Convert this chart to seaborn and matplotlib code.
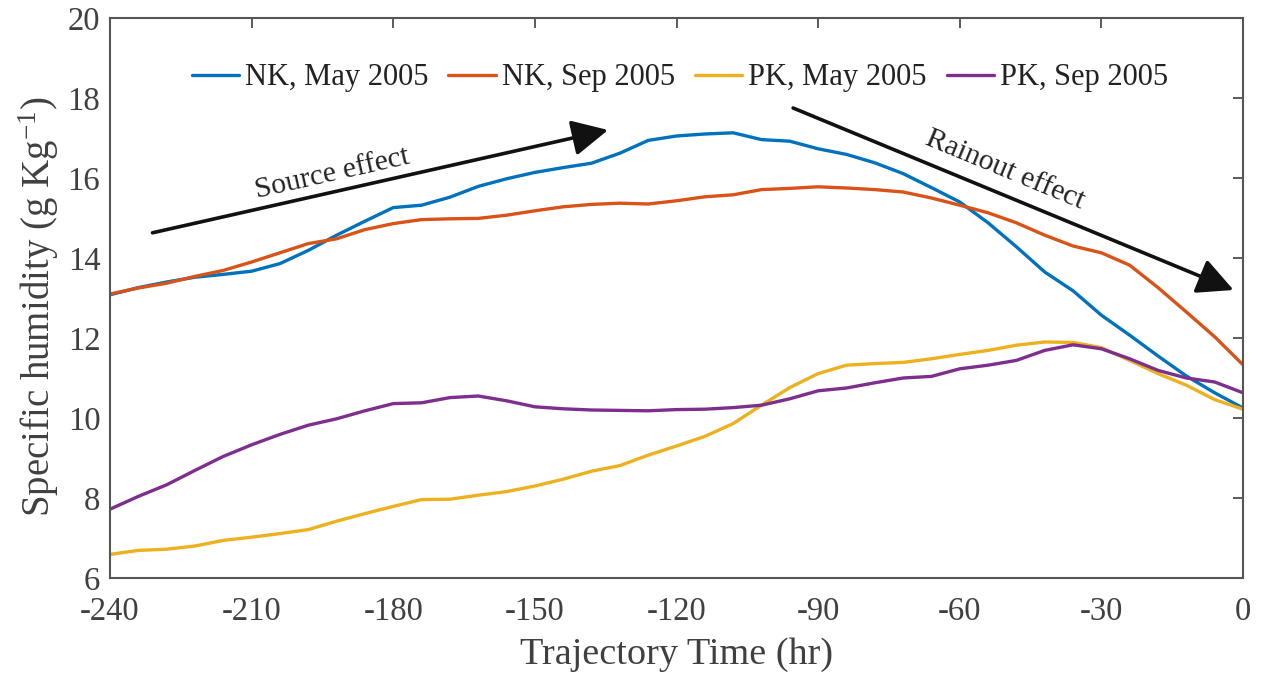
import numpy as np
import pandas as pd
import matplotlib
matplotlib.use("Agg")
import matplotlib.pyplot as plt
import seaborn as sns

# ---- data ----
hours = list(range(-240, 1, 6))
nk_may = [13.08, 13.26, 13.40, 13.52, 13.59, 13.67, 13.86, 14.19, 14.57, 14.92,
          15.26, 15.32, 15.52, 15.79, 15.98, 16.14, 16.26, 16.37, 16.62, 16.94,
          17.05, 17.10, 17.13, 16.96, 16.92, 16.73, 16.59, 16.38, 16.11, 15.76,
          15.40, 14.88, 14.28, 13.65, 13.18, 12.57, 12.07, 11.55, 11.05, 10.63, 10.25]
nk_sep = [13.10, 13.25, 13.37, 13.54, 13.69, 13.90, 14.13, 14.36, 14.48, 14.71,
          14.86, 14.96, 14.98, 14.99, 15.07, 15.18, 15.28, 15.34, 15.37, 15.35,
          15.43, 15.53, 15.58, 15.71, 15.74, 15.78, 15.75, 15.71, 15.65, 15.50,
          15.32, 15.13, 14.88, 14.57, 14.30, 14.13, 13.82, 13.26, 12.65, 12.03, 11.33]
pk_may = [6.59, 6.69, 6.72, 6.80, 6.94, 7.02, 7.11, 7.21, 7.42, 7.61,
          7.79, 7.96, 7.97, 8.07, 8.16, 8.30, 8.47, 8.67, 8.81, 9.07,
          9.30, 9.54, 9.86, 10.32, 10.76, 11.11, 11.32, 11.36, 11.39, 11.48,
          11.59, 11.69, 11.82, 11.90, 11.89, 11.76, 11.44, 11.11, 10.82, 10.46, 10.22]
pk_sep = [7.72, 8.04, 8.33, 8.69, 9.04, 9.33, 9.59, 9.82, 9.98, 10.18,
          10.36, 10.38, 10.51, 10.55, 10.43, 10.28, 10.23, 10.20, 10.19, 10.18,
          10.21, 10.22, 10.26, 10.32, 10.48, 10.68, 10.75, 10.88, 11.00, 11.04,
          11.23, 11.32, 11.44, 11.69, 11.83, 11.73, 11.48, 11.19, 11.00, 10.90, 10.63]
series_names = ["NK, May 2005", "NK, Sep 2005", "PK, May 2005", "PK, Sep 2005"]
colors = ["#0072BD", "#D95319", "#EDB120", "#7E2F8E"]
x_ticks = [-240, -210, -180, -150, -120, -90, -60, -30, 0]
y_ticks = [6, 8, 10, 12, 14, 16, 18, 20]

df = pd.concat([
    pd.DataFrame({"t": hours, "q": vals, "series": name})
    for name, vals in zip(series_names, [nk_may, nk_sep, pk_may, pk_sep])
])

sns.set_style("white")
plt.rcParams["font.family"] = ["Liberation Serif", "DejaVu Serif"]
plt.rcParams["mathtext.fontset"] = "custom"
plt.rcParams["mathtext.rm"] = "Liberation Serif"
plt.rcParams["mathtext.it"] = "Liberation Serif:italic"
plt.rcParams["axes.unicode_minus"] = False

txt = "#404040"
fig = plt.figure(figsize=(12.63, 6.76), dpi=100)
ax = fig.add_axes([110/1263, 1-578/676, (1243-110)/1263, (578-18)/676])
sns.lineplot(data=df, x="t", y="q", hue="series", hue_order=series_names,
             palette=colors, linewidth=2.4, ax=ax)

ax.set_xlim(-240, 0)
ax.set_ylim(6, 20)
ax.set_xticks(x_ticks)
ax.set_yticks(y_ticks)
ax.tick_params(direction="in", length=7, width=1.2, colors=txt, labelsize=23.5,
               top=True, right=True)
ax.tick_params(axis="x", pad=13)
ax.tick_params(axis="y", pad=7)
for s in ax.spines.values():
    s.set_color("#555555")
    s.set_linewidth(1.5)
ax.set_xlabel("Trajectory Time (hr)", fontsize=27.5, color=txt, labelpad=8)
ax.set_ylabel("Specific humidity (g Kg$^{\\mathregular{-1}}$)", fontsize=28,
              color=txt, labelpad=2)
ax.yaxis.set_label_coords(-0.043, 0.485)

leg = ax.legend(loc="upper center", bbox_to_anchor=(0.503, 0.968), ncol=4,
                frameon=False, fontsize=22, handlelength=1.55, handletextpad=0.2,
                columnspacing=0.65)
for t in leg.get_texts():
    t.set_color("#222222")

arrow_kw = dict(arrowstyle="-|>,head_length=2.2,head_width=1.1", color="#111111",
                lw=2.6, shrinkA=0, shrinkB=0)
ax.annotate("", xy=(-134.5, 17.2), xytext=(-231, 14.63), arrowprops=arrow_kw)
ax.annotate("", xy=(-2.0, 13.2), xytext=(-95.3, 17.75), arrowprops=arrow_kw)
ax.text(-193, 16.1, "Source effect", rotation=12.7, fontsize=21.5,
        color="#222222", ha="center", va="center", rotation_mode="anchor")
ax.text(-50.5, 16.2, "Rainout effect", rotation=-22.5, fontsize=21.5,
        color="#222222", ha="center", va="center", rotation_mode="anchor")

fig.savefig("out.png", dpi=100)
